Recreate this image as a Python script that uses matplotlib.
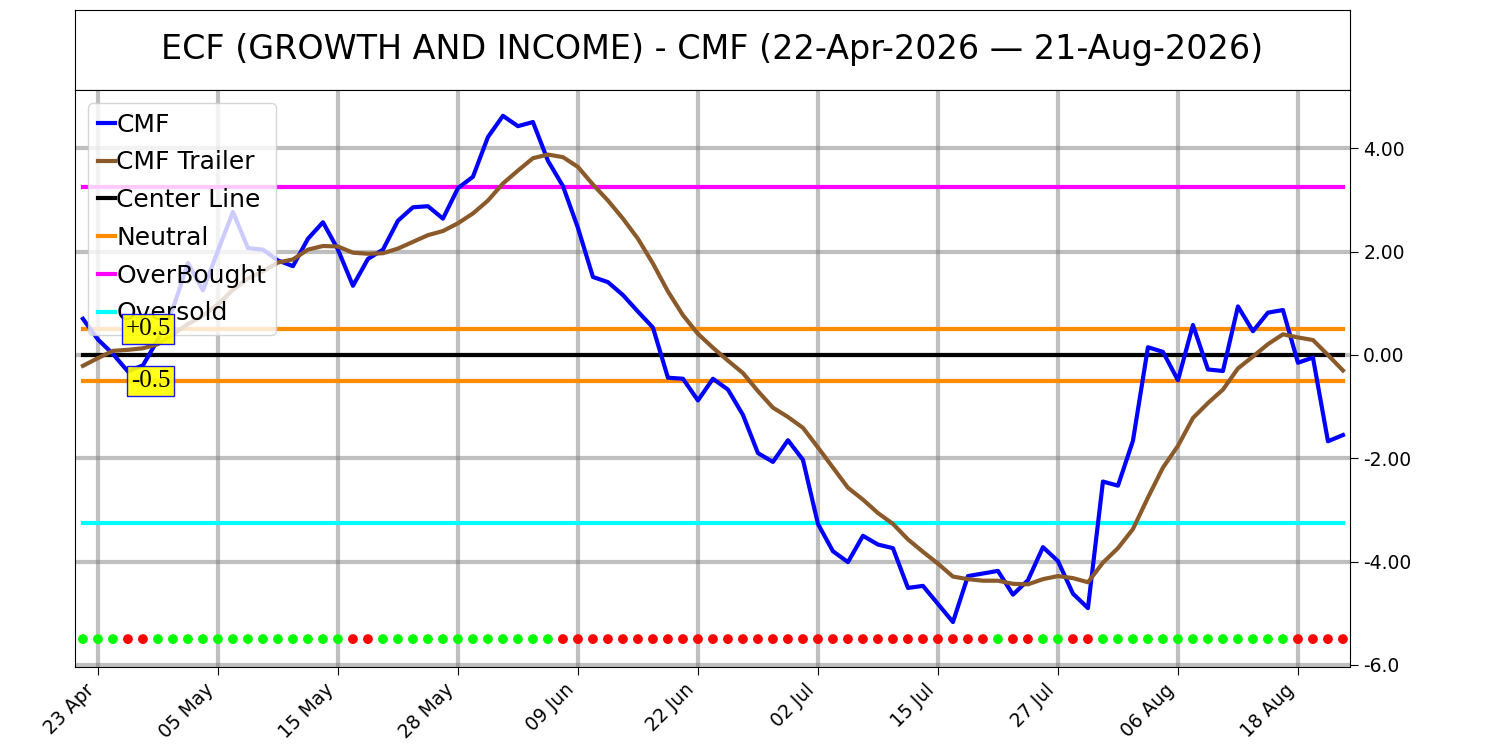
import numpy as np
import pandas as pd
import matplotlib
matplotlib.use('Agg')
import matplotlib.pyplot as plt

# trading days 22-Apr-2026 .. 21-Aug-2026
holidays = ['2026-05-25', '2026-06-19', '2026-07-03']
dates = pd.bdate_range('2026-04-22', '2026-08-21', freq='C', holidays=holidays)

cmf = [0.70, 0.30, 0.02, -0.32, -0.20, 0.30, 0.90, 1.78, 1.25, 2.02,
       2.77, 2.07, 2.04, 1.83, 1.72, 2.25, 2.57, 2.04, 1.34, 1.86,
       2.04, 2.60, 2.86, 2.88, 2.64, 3.23, 3.45, 4.22, 4.63, 4.43,
       4.51, 3.76, 3.27, 2.46, 1.51, 1.41, 1.16, 0.84, 0.53, -0.44,
       -0.46, -0.88, -0.46, -0.67, -1.16, -1.90, -2.07, -1.65, -2.03, -3.27,
       -3.80, -4.01, -3.50, -3.67, -3.74, -4.51, -4.47, -4.82, -5.17, -4.28,
       -4.23, -4.18, -4.64, -4.36, -3.72, -3.99, -4.62, -4.90, -2.45, -2.53,
       -1.66, 0.15, 0.06, -0.49, 0.58, -0.28, -0.31, 0.94, 0.46, 0.82,
       0.87, -0.15, -0.05, -1.67, -1.55]

cmf_trailer = [-0.21, -0.06, 0.08, 0.10, 0.13, 0.21, 0.40, 0.60, 0.76, 0.98,
               1.26, 1.48, 1.62, 1.79, 1.85, 2.04, 2.11, 2.10, 1.98, 1.96,
               1.97, 2.06, 2.19, 2.32, 2.40, 2.55, 2.74, 2.99, 3.32, 3.57,
               3.81, 3.88, 3.83, 3.64, 3.30, 2.99, 2.64, 2.25, 1.77, 1.23,
               0.77, 0.41, 0.14, -0.11, -0.35, -0.70, -1.02, -1.20, -1.41, -1.79,
               -2.18, -2.57, -2.80, -3.06, -3.27, -3.57, -3.81, -4.04, -4.29, -4.34,
               -4.37, -4.37, -4.43, -4.44, -4.34, -4.28, -4.32, -4.40, -4.02, -3.74,
               -3.37, -2.76, -2.18, -1.76, -1.22, -0.93, -0.67, -0.26, -0.03, 0.21,
               0.40, 0.34, 0.29, 0.00, -0.30]

# signal dots: G = green, R = red
signal = ("GGGRRGGGGGGGGGGGGG" "RR" "GGGGGGGGGGGG"
          "RRRRRRRRRRRRRRRRRRRRRRRRRRRRR" "G" "RR" "GG" "RR"
          "GGGGGGGGGGGGG" "RRRR")

overbought = 3.25
oversold = -3.25
neutral = 0.5
signal_level = -5.5

x = np.arange(len(cmf))
n = len(x)

fig = plt.figure(figsize=(15, 7.5), dpi=100)
ax_t = fig.add_axes([0.05, 0.88, 0.85, 0.1067])
ax_t.set_xticks([])
ax_t.set_yticks([])
ax_t.text(0.5, 0.5, 'ECF (GROWTH AND INCOME) - CMF (22-Apr-2026 \u2014 21-Aug-2026)',
          ha='center', va='center', fontsize=24, transform=ax_t.transAxes)

ax = fig.add_axes([0.05, 0.1107, 0.85, 0.7693])
ax.plot(x, cmf, color='blue', lw=3, label='CMF', zorder=4)
ax.plot(x, cmf_trailer, color='#8B5A2B', lw=3, label='CMF Trailer', zorder=4)
ax.plot(x, np.zeros(n), color='black', lw=3, label='Center Line', zorder=3)
ax.plot(x, np.full(n, neutral), color='#FF8C00', lw=3, label='Neutral', zorder=3)
ax.plot(x, np.full(n, -neutral), color='#FF8C00', lw=3, zorder=3)
ax.plot(x, np.full(n, overbought), color='magenta', lw=3, label='OverBought', zorder=3)
ax.plot(x, np.full(n, oversold), color='cyan', lw=3, label='Oversold', zorder=3)

dot_colors = ['#00FF00' if s == 'G' else 'red' for s in signal]
ax.scatter(x, np.full(n, signal_level), c=dot_colors, s=50, zorder=5, edgecolors='none')

bbox = dict(boxstyle='square,pad=0.15', facecolor='yellow', edgecolor='blue', alpha=0.9)
ax.text(5.85, neutral, '+0.5', ha='right', va='center', fontsize=18,
        family='Liberation Serif', bbox=bbox, zorder=6)
ax.text(5.85, -neutral, '-0.5', ha='right', va='center', fontsize=18,
        family='Liberation Serif', bbox=bbox, zorder=6)

ax.set_xlim(-0.53, 84.47)
ax.set_ylim(-6.04, 5.13)
tick_idx = list(range(1, n, 8))
ax.set_xticks(tick_idx)
ax.set_xticklabels([dates[i].strftime('%d %b') for i in tick_idx],
                   rotation=45, ha='right', fontsize=13.5)
ax.yaxis.tick_right()
ax.set_yticks([4, 2, 0, -2, -4, -6])
ax.set_yticklabels(['4.00', '2.00', '0.00', '-2.00', '-4.00', '-6.0'], fontsize=13.5)
ax.tick_params(length=6)
ax.grid(True, color='grey', alpha=0.5, lw=3)

ax.legend(loc='upper left', fontsize=18, handlelength=0.7, handletextpad=0.05,
          borderaxespad=0.5, labelspacing=0.55)

fig.savefig('out.png', dpi=100)
